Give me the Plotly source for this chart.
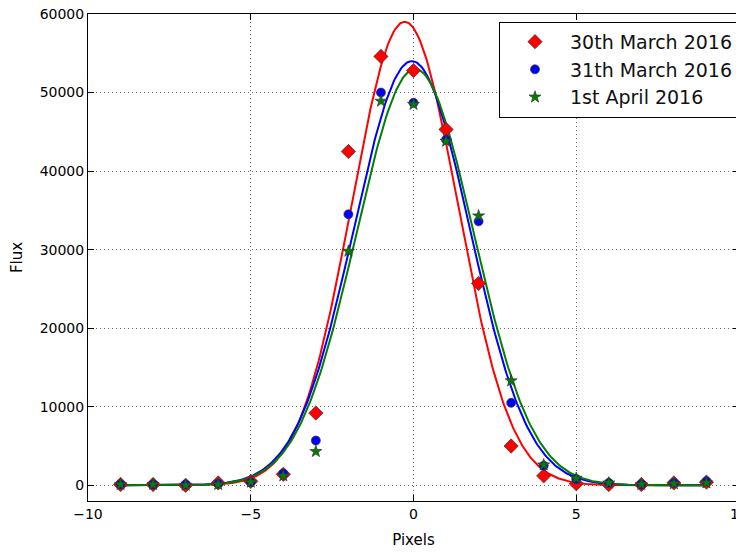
import numpy as np
import plotly.graph_objects as go

pixels = [-9, -8, -7, -6, -5, -4, -3, -2, -1, 0, 1, 2, 3, 4, 5, 6, 7, 8, 9]

flux_30mar = [100, 100, 0, 300, 500, 1400, 9200, 42500, 54600, 52800, 45300, 25700, 5000, 1200, 200, 100, 100, 300, 400]
flux_31mar = [100, 100, 100, 200, 400, 1500, 5700, 34500, 50000, 48700, 44000, 33600, 10500, 2500, 800, 300, 100, 300, 500]
flux_1apr = [100, 100, 0, 100, 400, 1200, 4300, 29800, 48900, 48500, 43800, 34300, 13300, 2600, 900, 300, 100, 200, 300]

# Gaussian fit parameters (amplitude, centre, sigma)
fit_30mar = (59000, -0.27, 1.63)
fit_31mar = (54000, -0.05, 1.78)
fit_1apr = (53000, 0.05, 1.80)

labels = ["30th March 2016", "31th March 2016", "1st April 2016"]
colors = ["#ff0000", "#0000ff", "#007f00"]
symbols = ["diamond", "circle", "star"]
sizes = [11, 9, 9]

x_ticks = [-10, -5, 0, 5, 10]
x_tick_text = ["\u221210", "\u22125", "0", "5", "10"]
y_ticks = [0, 10000, 20000, 30000, 40000, 50000, 60000]
y_tick_text = ["0", "10000", "20000", "30000", "40000", "50000", "60000"]

xs = np.linspace(min(pixels), max(pixels), 400)

fig = go.Figure()
for fit, col in zip([fit_30mar, fit_31mar, fit_1apr], colors):
    a, mu, s = fit
    fig.add_trace(go.Scatter(
        x=xs, y=a * np.exp(-(xs - mu) ** 2 / (2 * s ** 2)),
        mode="lines", line=dict(color=col, width=2), showlegend=False,
        hoverinfo="skip"))

for data, lab, col, sym, sz in zip(
    [flux_30mar, flux_31mar, flux_1apr], labels, colors, symbols, sizes):
    fig.add_trace(go.Scatter(
        x=pixels, y=data, mode="markers", name=lab,
        marker=dict(color=col, symbol=sym, size=sz,
                    line=dict(color="#333333", width=0.7))))

axis_common = dict(
    showline=True, linecolor="black", linewidth=1, mirror="ticks",
    ticks="inside", ticklen=6, tickcolor="black",
    showgrid=True, gridcolor="#666666", griddash="1px,3px", gridwidth=1,
    zeroline=False, automargin=False, ticklabeloverflow="allow",
    tickfont=dict(family="DejaVu Sans", size=14, color="black"),
)

fig.update_layout(
    width=736, height=544,
    margin=dict(l=80, r=5, t=6, b=51),
    paper_bgcolor="white", plot_bgcolor="white",
    font=dict(family="DejaVu Sans", color="black"),
    xaxis=dict(range=[-10, 10], tickvals=x_ticks, ticktext=x_tick_text,
               title=dict(text="Pixels", font=dict(size=15), standoff=13),
               **axis_common),
    yaxis=dict(range=[-2000, 60000], tickvals=y_ticks, ticktext=y_tick_text,
               title=dict(text="Flux", font=dict(size=15), standoff=14),
               **axis_common),
    legend=dict(x=1.0, y=0.984, xanchor="right", yanchor="top",
                bgcolor="white", bordercolor="black", borderwidth=1,
                font=dict(family="DejaVu Sans", size=19, color="#111111"),
                itemsizing="trace", itemwidth=60),
    showlegend=True,
)

fig.write_html("out.html")
